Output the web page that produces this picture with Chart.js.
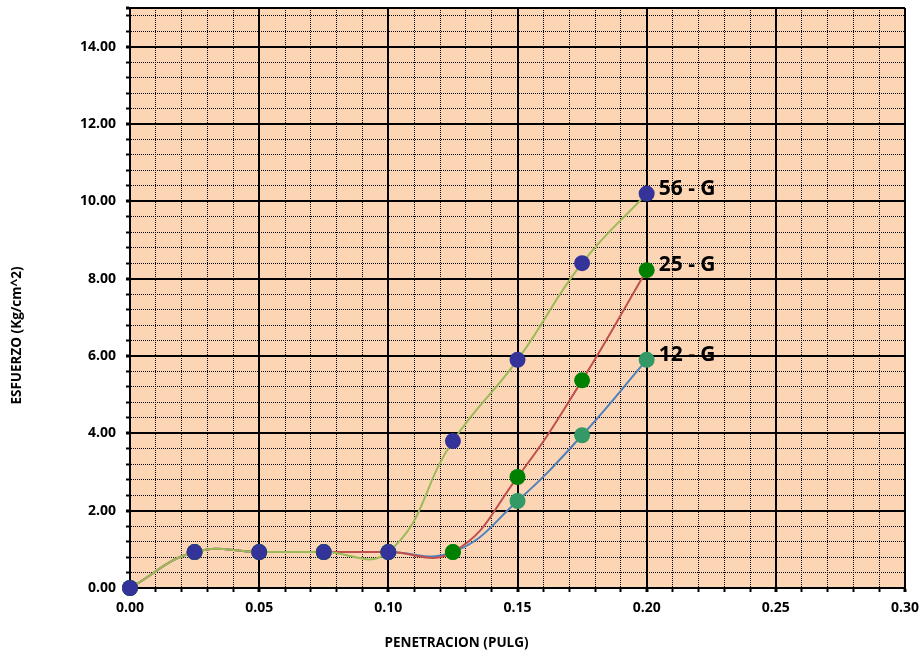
<!DOCTYPE html>
<html>
<head>
<meta charset="utf-8">
<script src="https://cdn.jsdelivr.net/npm/chart.js@4.4.1/dist/chart.umd.min.js"></script>
<style>
  html, body { margin: 0; padding: 0; background: #fff; }
</style>
</head>
<body>
<canvas id="cbrChart" width="921" height="661"></canvas>
<script>
/* ===== DATA ===== */
const penetracion = [0, 0.025, 0.05, 0.075, 0.1, 0.125, 0.15, 0.175, 0.2];
const esfuerzo56 = [0, 0.93, 0.93, 0.93, 0.93, 3.80, 5.90, 8.40, 10.20];
const esfuerzo25 = [0, 0.93, 0.93, 0.93, 0.93, 0.93, 2.87, 5.37, 8.22];
const esfuerzo12 = [0, 0.93, 0.93, 0.93, 0.93, 0.93, 2.25, 3.95, 5.90];
const seriesNames = ["56 - G", "25 - G", "12 - G"];

const xMajor = [0, 0.05, 0.10, 0.15, 0.20, 0.25, 0.30];
const yMajor = [0, 2, 4, 6, 8, 10, 12, 14];
const xMinorStep = 0.01;
const yMinorStep = 0.4;
const xMax = 0.30;
const yMax = 15;
const xTitle = "PENETRACION (PULG)";
const yTitle = "ESFUERZO (Kg/cm^2)";

/* ===== HELPERS ===== */
function buildTicks(step, max) {
  const out = [];
  const n = Math.floor(max / step + 1e-9);
  for (let i = 0; i <= n; i++) out.push({ value: +(i * step).toFixed(4) });
  if (out[out.length - 1].value < max - 1e-9) out.push({ value: max });
  return out;
}
const near = (a, b) => Math.abs(a - b) < 1e-6;
const isMajorX = v => xMajor.some(m => near(m, v));
const isMajorY = v => yMajor.some(m => near(m, v)) || near(v, yMax);

const toPoints = ys => penetracion.map((x, i) => ({ x, y: ys[i] }));

function series(label, ys, lineColor, markColor) {
  return {
    label,
    data: toPoints(ys),
    showLine: true,
    borderColor: lineColor,
    borderWidth: 2,
    tension: 0.45,
    pointRadius: 8,
    pointHoverRadius: 8,
    pointBackgroundColor: markColor,
    pointBorderColor: markColor,
    pointBorderWidth: 0,
    clip: false
  };
}

/* ===== PLUGINS ===== */
const plotBackground = {
  id: "plotBackground",
  beforeDraw(chart) {
    const { ctx, chartArea: a } = chart;
    ctx.save();
    ctx.fillStyle = "#FCD5B4";
    ctx.fillRect(a.left, a.top, a.right - a.left, a.bottom - a.top);
    ctx.restore();
  }
};

// axis titles are centred on the whole picture, not on the plot area
const axisTitles = {
  id: "axisTitles",
  afterDraw(chart) {
    const ctx = chart.ctx;
    ctx.save();
    ctx.font = "bold 13.5px 'Open Sans'";
    ctx.fillStyle = "#000";
    ctx.textAlign = "center";
    ctx.textBaseline = "middle";
    ctx.fillText(xTitle, chart.width / 2 - 4, chart.height - 18);
    ctx.translate(17, chart.height / 2 + 5);
    ctx.rotate(-Math.PI / 2);
    ctx.fillText(yTitle, 0, 0);
    ctx.restore();
  }
};

const endLabels = {
  id: "endLabels",
  afterDatasetsDraw(chart) {
    const ctx = chart.ctx;
    ctx.save();
    ctx.font = "bold 21px 'Open Sans'";
    ctx.fillStyle = "#000";
    ctx.textBaseline = "middle";
    chart.data.datasets.forEach((ds, i) => {
      const pts = chart.getDatasetMeta(i).data;
      const last = pts[pts.length - 1];
      ctx.fillText(ds.label, last.x + 12, last.y - 5);
    });
    ctx.restore();
  }
};

/* ===== CHART ===== */
Chart.defaults.font.family = "'Open Sans'";
Chart.defaults.color = "#000";

new Chart(document.getElementById("cbrChart"), {
  type: "scatter",
  data: {
    datasets: [
      series(seriesNames[0], esfuerzo56, "#9BBB59", "#333399"),
      series(seriesNames[1], esfuerzo25, "#C0504D", "#008000"),
      series(seriesNames[2], esfuerzo12, "#4F81BD", "#339966")
    ]
  },
  options: {
    responsive: false,
    animation: false,
    devicePixelRatio: 1,
    layout: { padding: { top: 4, right: 16, left: 0, bottom: 0 } },
    plugins: { legend: { display: false }, tooltip: { enabled: false } },
    scales: {
      x: {
        type: "linear",
        min: 0,
        max: xMax,
        afterBuildTicks: s => { s.ticks = buildTicks(xMinorStep, xMax); },
        afterFit: s => { s.height = 73; s.paddingLeft = 0; s.paddingRight = 0; },
        ticks: {
          autoSkip: false,
          maxRotation: 0,
          padding: 8,
          font: { size: 14, weight: "bold" },
          callback: v => isMajorX(v) ? v.toFixed(2) : ""
        },
        grid: {
          color: "#000",
          lineWidth: c => c.tick && isMajorX(c.tick.value) ? 2 : 1,
          tickLength: 4,
          tickColor: "#000",
          tickWidth: c => c.tick && isMajorX(c.tick.value) ? 3 : 2
        },
        border: {
          color: "#000",
          width: 2,
          dash: c => (c.tick && !isMajorX(c.tick.value)) ? [1, 1] : []
        },
        title: { display: false }
      },
      y: {
        type: "linear",
        min: 0,
        max: yMax,
        afterBuildTicks: s => { s.ticks = buildTicks(yMinorStep, yMax); },
        afterFit: s => { s.width = 130; s.paddingTop = 0; s.paddingBottom = 0; },
        ticks: {
          autoSkip: false,
          padding: 10,
          font: { size: 14, weight: "bold" },
          callback: v => (isMajorY(v) && !near(v, yMax)) ? v.toFixed(2) : ""
        },
        grid: {
          color: "#000",
          lineWidth: c => c.tick && isMajorY(c.tick.value) ? 2 : 1,
          tickLength: 4,
          tickColor: "#000",
          tickWidth: c => c.tick && isMajorY(c.tick.value) ? 3 : 2
        },
        border: {
          color: "#000",
          width: 2,
          dash: c => (c.tick && !isMajorY(c.tick.value)) ? [1, 1] : []
        },
        title: { display: false }
      }
    }
  },
  plugins: [plotBackground, axisTitles, endLabels]
});
</script>
</body>
</html>
